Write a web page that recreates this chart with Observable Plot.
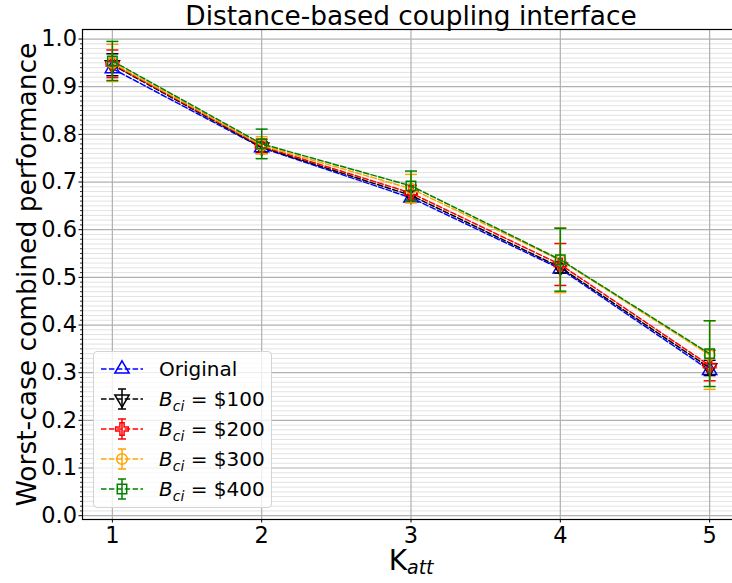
<!DOCTYPE html>
<html><head><meta charset="utf-8">
<script src="https://cdn.jsdelivr.net/npm/d3@7"></script>
<script src="https://cdn.jsdelivr.net/npm/@observablehq/plot@0.6"></script>
<style>
html,body{margin:0;padding:0;background:#fff;overflow:hidden;}
#wrap{position:relative;width:732px;height:583px;overflow:hidden;}
#chart{width:740px;}
#chart svg{max-width:none !important;width:740px;height:583px;}
#legend{position:absolute;left:93px;top:351px;width:177px;height:155px;border:1px solid #d4d4d4;border-radius:4px;background:rgba(255,255,255,0.8);font-family:"DejaVu Sans",sans-serif;font-size:20px;color:#000;}
.row{position:absolute;left:0;height:30px;display:flex;align-items:center;white-space:nowrap;}
.row svg{flex:none;}
.lbl{margin-left:5px;}
.it{font-style:italic;}
.sub{font-style:italic;font-size:14px;position:relative;top:5px;}
</style></head><body>
<div id="wrap"><div id="chart"></div><div id="legend"></div></div>
<script>
// ---- data ----
const kValues = [1, 2, 3, 4, 5];
const yMajorTicks = [0, 0.1, 0.2, 0.3, 0.4, 0.5, 0.6, 0.7, 0.8, 0.9, 1.0];
const titleText = "Distance-based coupling interface";
const yLabelText = "Worst-case combined performance";
const seriesLabels = ["Original", "$100", "$200", "$300", "$400"];
const seriesColors = ["#0000ff", "#000000", "#ff0000", "#ffa500", "#008000"];
const seriesSymbols = ["triangle", "triangle-down", "cross", "circle", "square"];
const originalMean = [0.938, 0.772, 0.667, 0.518, 0.305];
const b100Mean = [0.946, 0.773, 0.672, 0.521, 0.310];
const b100Err  = [0.023, 0.012, 0.010, 0.012, 0.016];
const b200Mean = [0.948, 0.775, 0.677, 0.527, 0.315];
const b200Err  = [0.029, 0.015, 0.016, 0.044, 0.032];
const b300Mean = [0.950, 0.777, 0.686, 0.536, 0.337];
const b300Err  = [0.039, 0.018, 0.030, 0.068, 0.072];
const b400Mean = [0.954, 0.780, 0.692, 0.537, 0.340];
const b400Err  = [0.041, 0.031, 0.031, 0.066, 0.069];

const means = [originalMean, b100Mean, b200Mean, b300Mean, b400Mean];
const errs = [null, b100Err, b200Err, b300Err, b400Err];
const yMinorTicks = d3.range(0, 101).map(i => i / 100).filter(v => Math.round(v * 100) % 10 !== 0);

const capSymbol = {draw(ctx, size) { const r = Math.sqrt(size / Math.PI); ctx.moveTo(-r, 0); ctx.lineTo(r, 0); }};
const symFor = s => s === "triangle-down" ? "triangle" : s;
const rotFor = s => s === "triangle-down" ? 180 : 0;

const rows = [];
means.forEach((m, si) => m.forEach((v, i) => rows.push({
  series: si, k: kValues[i], v,
  lo: errs[si] ? v - errs[si][i] : null, hi: errs[si] ? v + errs[si][i] : null
})));

const seriesMarks = [];
means.forEach((m, si) => {
  const d = rows.filter(r => r.series === si);
  const c = seriesColors[si];
  if (errs[si]) {
    seriesMarks.push(Plot.ruleX(d, {x: "k", y1: "lo", y2: "hi", stroke: c, strokeWidth: 1.5}));
    seriesMarks.push(Plot.dot(d, {x: "k", y: "lo", symbol: capSymbol, r: 6, stroke: c, strokeWidth: 1.5}));
    seriesMarks.push(Plot.dot(d, {x: "k", y: "hi", symbol: capSymbol, r: 6, stroke: c, strokeWidth: 1.5}));
  }
  seriesMarks.push(Plot.line(d, {x: "k", y: "v", stroke: c, strokeWidth: 1.5, strokeDasharray: "5.5,2.4"}));
  seriesMarks.push(Plot.dot(d, {x: "k", y: "v", symbol: symFor(seriesSymbols[si]), rotate: rotFor(seriesSymbols[si]),
    r: 5.3, stroke: c, fill: "none", strokeWidth: 1.5}));
});

const chart = Plot.plot({
  width: 740, height: 583,
  marginTop: 29, marginBottom: 64, marginLeft: 82, marginRight: 1,
  x: {domain: [0.8, 5.2]},
  y: {domain: [-0.008, 1.02]},
  style: {fontFamily: "DejaVu Sans, sans-serif", background: "white", color: "black", maxWidth: "none"},
  marks: [
    Plot.gridY(yMinorTicks, {stroke: "#e2e2e2", strokeOpacity: 1, strokeWidth: 1}),
    Plot.gridY(yMajorTicks, {stroke: "#b0b0b0", strokeOpacity: 1, strokeWidth: 1.2}),
    Plot.gridX(kValues, {stroke: "#b0b0b0", strokeOpacity: 1, strokeWidth: 1.2}),
    ...seriesMarks,
    Plot.frame({stroke: "black", strokeWidth: 1.2}),
    Plot.axisY(yMinorTicks, {tickSize: 2, tickFormat: () => "", label: null, strokeWidth: 0.8}),
    Plot.axisY(yMajorTicks, {tickSize: 3.5, tickPadding: 2, tickFormat: d3.format(".1f"), fontSize: 22.5, label: null}),
    Plot.axisX(kValues, {tickSize: 3.5, tickPadding: 4, tickFormat: d => String(d), fontSize: 22.5, label: null}),
    Plot.text([titleText], {x: 3, frameAnchor: "top", lineAnchor: "bottom", dy: -5, fontSize: 26.4}),
    Plot.text([yLabelText], {frameAnchor: "left", rotate: -90, lineAnchor: "bottom", textAnchor: "middle", dx: -47, fontSize: 26.5}),
    Plot.text(["K"], {x: 3, frameAnchor: "bottom", lineAnchor: "bottom", textAnchor: "end", dx: -4, dy: 50, fontSize: 28}),
    Plot.text(["att"], {x: 3, frameAnchor: "bottom", lineAnchor: "bottom", textAnchor: "start", dx: -4, dy: 54, fontSize: 19, fontStyle: "italic"})
  ]
});
chart.style.maxWidth = "none";
document.getElementById("chart").appendChild(chart);

// ---- legend ----
const legend = document.getElementById("legend");
const d3sym = {triangle: d3.symbolTriangle, "triangle-down": d3.symbolTriangle, cross: d3.symbolCross, circle: d3.symbolCircle, square: d3.symbolSquare};
seriesLabels.forEach((lab, si) => {
  const row = document.createElement("div");
  row.className = "row";
  row.style.top = (2 + 30 * si) + "px";
  const svg = d3.create("svg").attr("width", 60).attr("height", 30);
  const c = seriesColors[si];
  svg.append("line").attr("x1", 7).attr("x2", 49).attr("y1", 15).attr("y2", 15)
    .attr("stroke", c).attr("stroke-width", 1.5).attr("stroke-dasharray", "5.5,2.4");
  if (errs[si]) {
    svg.append("line").attr("x1", 28).attr("x2", 28).attr("y1", 5).attr("y2", 25).attr("stroke", c).attr("stroke-width", 1.5);
    svg.append("line").attr("x1", 24).attr("x2", 32).attr("y1", 5).attr("y2", 5).attr("stroke", c).attr("stroke-width", 1.5);
    svg.append("line").attr("x1", 24).attr("x2", 32).attr("y1", 25).attr("y2", 25).attr("stroke", c).attr("stroke-width", 1.5);
  }
  const s = seriesSymbols[si];
  svg.append("path").attr("d", d3.symbol(d3sym[s], 5.3 * 5.3 * Math.PI)())
    .attr("transform", `translate(28,15) rotate(${rotFor(s)})`)
    .attr("fill", "none").attr("stroke", c).attr("stroke-width", 1.5);
  row.appendChild(svg.node());
  const t = document.createElement("span");
  t.className = "lbl";
  if (si === 0) t.textContent = lab;
  else t.innerHTML = `<span class="it">B</span><span class="sub">ci</span> = ${lab}`;
  row.appendChild(t);
  legend.appendChild(row);
});
</script>
</body></html>
